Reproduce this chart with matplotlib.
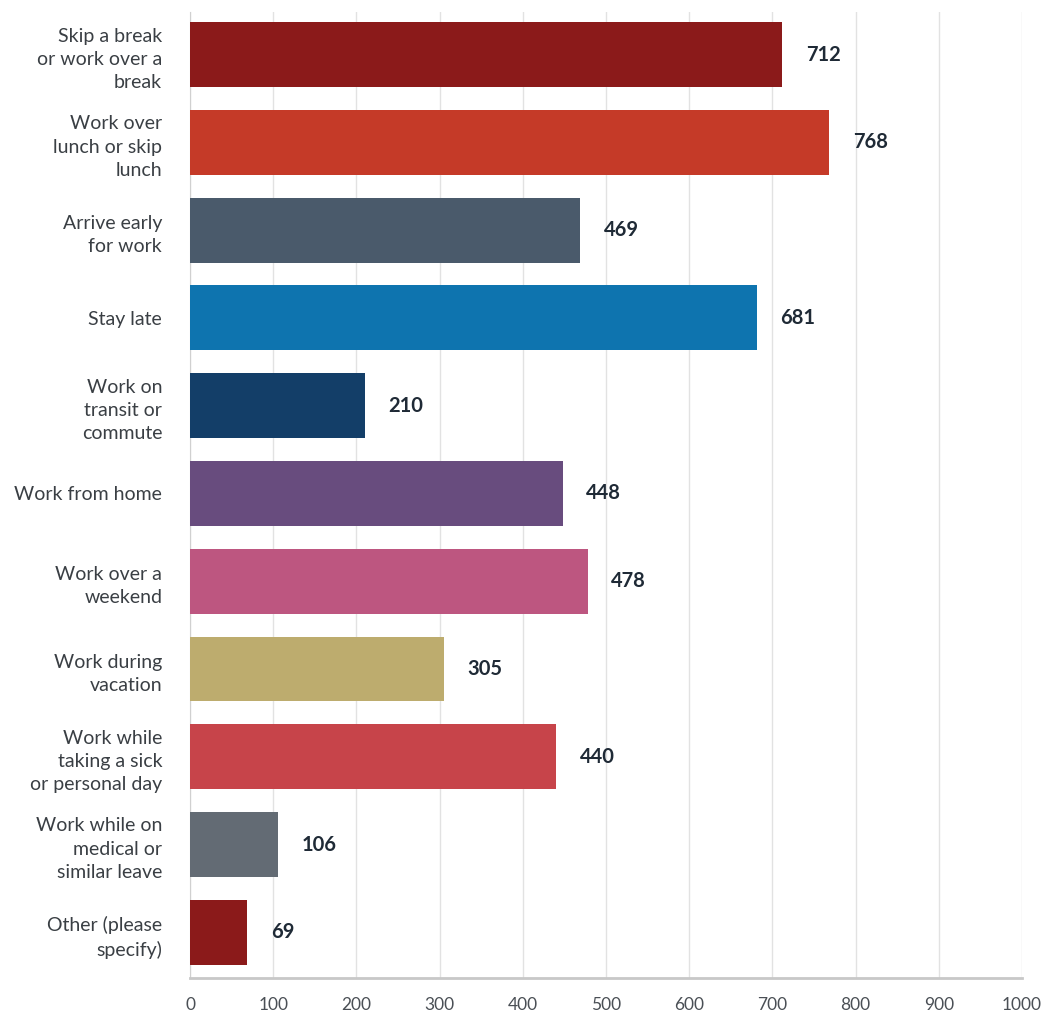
import matplotlib.pyplot as plt

plt.rcParams['font.family'] = ['Lato', 'DejaVu Sans']

categories = [
    'Skip a break\nor work over a\nbreak',
    'Work over\nlunch or skip\nlunch',
    'Arrive early\nfor work',
    'Stay late',
    'Work on\ntransit or\ncommute',
    'Work from home',
    'Work over a\nweekend',
    'Work during\nvacation',
    'Work while\ntaking a sick\nor personal day',
    'Work while on\nmedical or\nsimilar leave',
    'Other (please\nspecify)',
]
counts = [712, 768, 469, 681, 210, 448, 478, 305, 440, 106, 69]
colors = ['#8b1a1a', '#c53a28', '#4a5a6b', '#0e74af', '#133e68', '#684c7e',
          '#bd5680', '#bdac6e', '#c7444a', '#636b74', '#8b1a1a']
x_ticks = [0, 100, 200, 300, 400, 500, 600, 700, 800, 900, 1000]

fig = plt.figure(figsize=(10.44, 10.15), dpi=100)
ax = fig.add_axes([0.182, 0.0365, 0.797, 0.952])

ypos = list(range(len(categories)))
ax.barh(ypos, counts, height=0.74, color=colors, zorder=3)

for y, v in zip(ypos, counts):
    ax.annotate(str(v), xy=(v, y), xytext=(17, 0), textcoords='offset points',
                va='center', ha='left', fontsize=14.5, fontweight='bold', color='#1f2a36')

ax.set_xlim(0, 1000)
ax.set_ylim(10.52, -0.49)
ax.set_xticks(x_ticks)
ax.set_yticks(ypos)
ax.set_yticklabels(categories, fontsize=14, color='#3a3f44', linespacing=1.45)
ax.tick_params(axis='x', labelsize=12.5, colors='#4a4f55', length=0, pad=14)
ax.tick_params(axis='y', length=0, pad=20)

ax.grid(axis='x', color='#e2e2e2', linewidth=1, zorder=0)
for side in ['top', 'right']:
    ax.spines[side].set_visible(False)
ax.spines['left'].set_color('#d0d0d0')
ax.spines['bottom'].set_color('#c8c8c8')
ax.spines['bottom'].set_linewidth(2)

fig.savefig('out.png', dpi=100)
